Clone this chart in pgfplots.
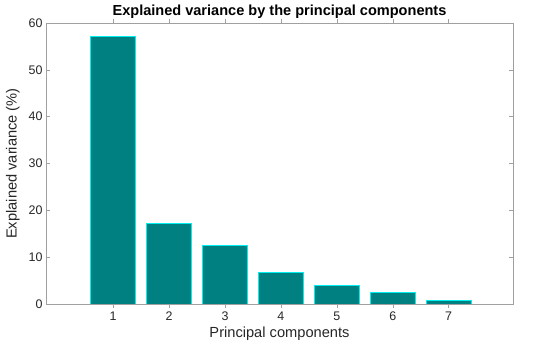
\documentclass[border=0pt]{standalone}
\usepackage{fontspec}
\setmainfont{Liberation Sans}
\usepackage{pgfplots}
\pgfplotsset{compat=1.18}
\definecolor{barfill}{RGB}{0,128,128}
\definecolor{baredge}{RGB}{0,240,240}
\definecolor{axgray}{RGB}{160,160,160}
\definecolor{txtgray}{RGB}{38,38,38}
\begin{document}
\begin{tikzpicture}
\useasboundingbox (-46bp,-43bp) rectangle (504bp,304bp);
\begin{axis}[
  at={(0,0)}, anchor=south west,
  scale only axis,
  width=467bp, height=281bp,
  xmin=-0.2, xmax=8.15,
  ymin=0, ymax=60,
  xtick={1,2,3,4,5,6,7},
  ytick={0,10,20,30,40,50,60},
  tick align=inside,
  major tick length=4bp,
  axis line style={axgray, line width=0.5pt},
  every tick/.style={axgray, line width=0.5pt},
  tick label style={font=\fontsize{12.5}{14}\selectfont, text=txtgray},
  /pgf/number format/assume math mode=true,
  xlabel={Principal components},
  ylabel={Explained variance (\%)},
  label style={font=\fontsize{14.7}{17}\selectfont, text=txtgray},
  xlabel style={yshift=0bp},
  ylabel style={yshift=2bp},
  title={\textbf{Explained variance by the principal components}},
  title style={font=\fontsize{14.6}{17}\selectfont, text=black, yshift=-5bp},
  ybar, bar width=0.8,
]
\addplot[fill=barfill, draw=baredge, line width=0.8pt] coordinates {
  (1,57.1) (2,17.2) (3,12.45) (4,6.75) (5,3.9) (6,2.55) (7,0.8)
};
\end{axis}
\end{tikzpicture}
\end{document}
